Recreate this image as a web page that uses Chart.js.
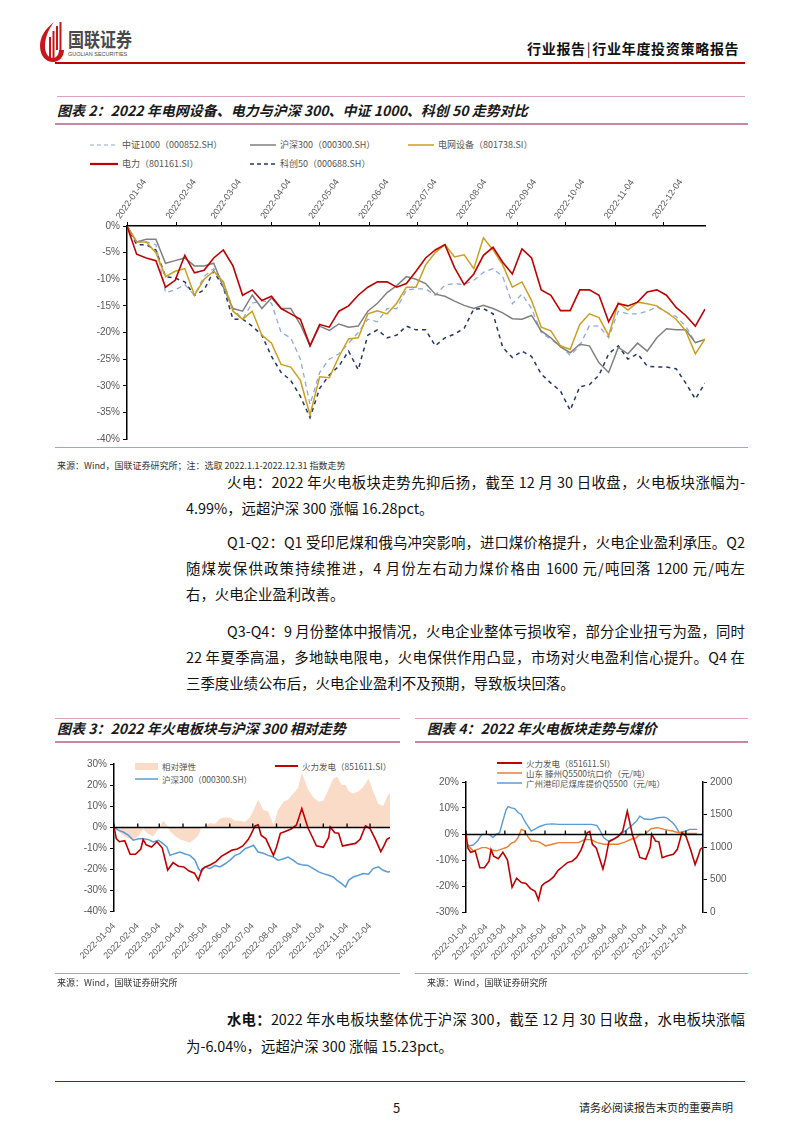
<!DOCTYPE html>
<html lang="zh-CN">
<head>
<meta charset="utf-8">
<title>行业年度投资策略报告 - 5</title>
<script src="https://cdn.jsdelivr.net/npm/chart.js@4.4.1/dist/chart.umd.min.js"></script>
<style>
  html, body { margin: 0; padding: 0; background: #fff; }
  body { width: 802px; height: 1133px; position: relative; overflow: hidden;
         font-family: "Noto Sans CJK SC", "Noto Sans", sans-serif; color: #1a1a1a; }
  .abs { position: absolute; white-space: nowrap; }
  .rule { position: absolute; height: 0; }
  .title { position: absolute; font-size: 14px; font-weight: 700; font-style: italic; color: #1a1a1a; white-space: nowrap; line-height: 1; }
  .src { position: absolute; font-size: 9px; color: #333; white-space: nowrap; line-height: 1; }
  .line { position: absolute; font-size: 14.4px; line-height: 1; white-space: nowrap; color: #111; }
  .full { text-align: justify; text-align-last: justify; white-space: normal; height: 16px; }
  .lg { position: absolute; font-size: 9px; color: #555; white-space: nowrap; line-height: 1; display: flex; align-items: center; }
  .lg svg { margin-right: 4px; }
  canvas { position: absolute; }
</style>
</head>
<body>

<!-- header -->
<svg class="abs" style="left:40px;top:21px" width="24" height="42" viewBox="0 0 24 42">
  <path d="M14 1 C5 8 0 16 0 25 C0 35 6 41 13 41 C19 41 24 36 24 29 L19 29 C19 34 16 37 13 37 C8 37 5 32 5 25 C5 17 8 9 14 1 Z" fill="#c8161d"/>
  <rect x="9" y="16" width="2" height="21" fill="#c8161d"/>
  <rect x="12.5" y="10" width="2" height="27" fill="#c8161d"/>
  <rect x="16" y="5" width="2" height="24" fill="#c8161d"/>
  <rect x="19.5" y="1" width="2" height="28" fill="#c8161d"/>
</svg>
<div class="abs" style="left:68px;top:29px;font-size:16px;font-weight:700;color:#4a4a4a;line-height:1;transform:scaleY(1.2);transform-origin:left top">国联证券</div>
<div class="abs" style="left:68px;top:52px;font-size:5.5px;color:#4a4a4a;font-family:Arial,sans-serif;line-height:1">GUOLIAN SECURITIES</div>
<div class="abs" style="left:527px;top:41px;font-size:14px;font-weight:700;color:#111;line-height:1;letter-spacing:0.7px">行业报告<span style="font-weight:400;margin:0 1px">|</span>行业年度投资策略报告</div>
<div class="rule" style="left:55px;top:62px;width:690px;border-top:2px solid #c00000"></div>

<!-- figure 2 -->
<div class="rule" style="left:57px;top:96px;width:688px;border-top:1px solid #dba3bd"></div>
<div class="title" style="left:57px;top:103px">图表 2：2022 年电网设备、电力与沪深 300、中证 1000、科创 50 走势对比</div>
<div class="rule" style="left:55px;top:123px;width:693px;border-top:2px solid #c48aa5"></div>

<div class="lg" style="left:90px;top:140px"><svg width="28" height="4"><line x1="0" y1="2" x2="28" y2="2" stroke="#8eaadb" stroke-width="1.2" stroke-dasharray="4 3"/></svg>中证1000（000852.SH）</div>
<div class="lg" style="left:250px;top:140px"><svg width="26" height="4"><line x1="0" y1="2" x2="26" y2="2" stroke="#808080" stroke-width="1.5"/></svg>沪深300（000300.SH）</div>
<div class="lg" style="left:408px;top:140px"><svg width="26" height="4"><line x1="0" y1="2" x2="26" y2="2" stroke="#cc9f1f" stroke-width="1.5"/></svg>电网设备（801738.SI）</div>
<div class="lg" style="left:90px;top:159px"><svg width="28" height="4"><line x1="0" y1="2" x2="28" y2="2" stroke="#c00000" stroke-width="2.2"/></svg>电力（801161.SI）</div>
<div class="lg" style="left:250px;top:159px"><svg width="26" height="4"><line x1="0" y1="2" x2="26" y2="2" stroke="#1f3864" stroke-width="1.5" stroke-dasharray="4 3"/></svg>科创50（000688.SH）</div>

<canvas id="trendChart" width="720" height="282" style="left:40px;top:168px;width:720px;height:282px"></canvas>
<div class="rule" style="left:55px;top:447px;width:693px;border-top:1.5px solid #d98fb3"></div>
<div class="src" style="left:57px;top:461px">来源：Wind，国联证券研究所；注：选取 2022.1.1-2022.12.31 指数走势</div>

<!-- body text -->
<div class="line full" style="left:227px;top:475px;width:518px">火电：2022 年火电板块走势先抑后扬，截至 12 月 30 日收盘，火电板块涨幅为-</div>
<div class="line" style="left:186px;top:501px">4.99%，远超沪深 300 涨幅 16.28pct。</div>
<div class="line full" style="left:227px;top:535px;width:518px">Q1-Q2：Q1 受印尼煤和俄乌冲突影响，进口煤价格提升，火电企业盈利承压。Q2</div>
<div class="line full" style="left:186px;top:561px;width:559px">随煤炭保供政策持续推进，4 月份左右动力煤价格由 1600 元/吨回落 1200 元/吨左</div>
<div class="line" style="left:186px;top:587px">右，火电企业盈利改善。</div>
<div class="line full" style="left:227px;top:624px;width:518px">Q3-Q4：9 月份整体中报情况，火电企业整体亏损收窄，部分企业扭亏为盈，同时</div>
<div class="line full" style="left:186px;top:650px;width:559px">22 年夏季高温，多地缺电限电，火电保供作用凸显，市场对火电盈利信心提升。Q4 在</div>
<div class="line" style="left:186px;top:676px">三季度业绩公布后，火电企业盈利不及预期，导致板块回落。</div>

<!-- figure 3 -->
<div class="rule" style="left:55px;top:718px;width:345px;border-top:1px solid #dba3bd"></div>
<div class="title" style="left:57px;top:721px">图表 3：2022 年火电板块与沪深 300 相对走势</div>
<div class="rule" style="left:55px;top:741px;width:345px;border-top:2px solid #c48aa5"></div>
<div class="lg" style="left:135px;top:762px;font-size:8.5px"><svg width="23" height="7"><rect x="0" y="0" width="23" height="7" fill="#fadbc8"/></svg>相对弹性</div>
<div class="lg" style="left:135px;top:775px;font-size:8.5px"><svg width="23" height="4"><line x1="0" y1="2" x2="23" y2="2" stroke="#5b9bd5" stroke-width="1.5"/></svg>沪深300（000300.SH）</div>
<div class="lg" style="left:275px;top:762px;font-size:8.5px"><svg width="23" height="4"><line x1="0" y1="2" x2="23" y2="2" stroke="#c00000" stroke-width="2"/></svg>火力发电（851611.SI）</div>
<canvas id="relChart" width="357" height="232" style="left:45px;top:745px;width:357px;height:232px"></canvas>
<div class="rule" style="left:55px;top:973px;width:345px;border-top:1.5px solid #d98fb3"></div>
<div class="src" style="left:57px;top:978px">来源：Wind，国联证券研究所</div>

<!-- figure 4 -->
<div class="rule" style="left:415px;top:718px;width:333px;border-top:1px solid #dba3bd"></div>
<div class="title" style="left:427px;top:721px">图表 4：2022 年火电板块走势与煤价</div>
<div class="rule" style="left:415px;top:741px;width:333px;border-top:2px solid #c48aa5"></div>
<div class="lg" style="left:497px;top:759px;font-size:8.5px"><svg width="25" height="4"><line x1="0" y1="2" x2="25" y2="2" stroke="#c00000" stroke-width="2"/></svg>火力发电（851611.SI）</div>
<div class="lg" style="left:497px;top:769px;font-size:8.5px"><svg width="25" height="4"><line x1="0" y1="2" x2="25" y2="2" stroke="#ed7d31" stroke-width="1.5"/></svg>山东 滕州Q5500坑口价（元/吨）</div>
<div class="lg" style="left:497px;top:779px;font-size:8.5px"><svg width="25" height="4"><line x1="0" y1="2" x2="25" y2="2" stroke="#5b9bd5" stroke-width="1.5"/></svg>广州港印尼煤库提价Q5500（元/吨）</div>
<canvas id="coalChart" width="340" height="232" style="left:415px;top:745px;width:340px;height:232px"></canvas>
<div class="rule" style="left:415px;top:973px;width:333px;border-top:1.5px solid #d98fb3"></div>
<div class="src" style="left:427px;top:978px">来源：Wind，国联证券研究所</div>

<!-- hydro paragraph -->
<div class="line full" style="left:227px;top:1012px;width:518px"><b>水电：</b>2022 年水电板块整体优于沪深 300，截至 12 月 30 日收盘，水电板块涨幅</div>
<div class="line" style="left:186px;top:1039px">为-6.04%，远超沪深 300 涨幅 15.23pct。</div>

<!-- footer -->
<div class="rule" style="left:55px;top:1081px;width:690px;border-top:1.5px solid #c00000"></div>
<div class="abs" style="left:393px;top:1101px;font-size:13px;line-height:1">5</div>
<div class="abs" style="left:579px;top:1102px;font-size:11px;line-height:1;color:#222">请务必阅读报告末页的重要声明</div>

<script>
// tick positions: days since 2022-01-04
const monthDays = [0, 31, 59, 90, 120, 151, 181, 212, 243, 273, 304, 334];
const monthLabels = ['2022-01-04', '2022-02-04', '2022-03-04', '2022-04-04', '2022-05-04', '2022-06-04',
  '2022-07-04', '2022-08-04', '2022-09-04', '2022-10-04', '2022-11-04', '2022-12-04'];

// ---- figure 2: cumulative change (%) ----
const days2 = [0, 6, 12, 18, 24, 30, 36, 42, 48, 54, 60, 66, 72, 78, 84, 90, 96, 102, 108, 114,
  120, 126, 132, 138, 144, 150, 156, 162, 168, 174, 180, 186, 192, 198, 204, 210, 216, 222, 228, 234,
  240, 246, 252, 258, 264, 270, 276, 282, 288, 294, 300, 306, 312, 318, 324, 330, 336, 342, 348, 354, 360];
const power801161 = [0, -5.3, -6, -6.5, -11.5, -10.2, -5.5, -8.8, -8.3, -6,
  -4.5, -7.5, -13, -12, -14, -13.2, -15.5, -16.5, -17.5, -22.5,
  -18.5, -19, -16, -15, -13, -11.5, -10.5, -10.5, -11.5, -10.8,
  -8.5, -6, -4.5, -3.5, -7.8, -11, -9, -5.5, -4, -6.8,
  -9, -4.3, -6, -12, -13, -15.9, -15.9, -12, -12, -13,
  -18, -14.6, -15, -14.3, -12.4, -12, -13, -15.3, -16.8, -18.8, -15.6];
const grid801738 = [0, -3, -3, -5, -9.5, -8.5, -8, -13, -10, -8.5,
  -10.5, -16, -17.5, -16, -20.5, -22, -26, -26.5, -29, -35.5,
  -28.3, -28.5, -24.5, -21.2, -21, -16.5, -15.9, -16.5, -14.5, -11.5,
  -11.5, -7.3, -5, -3.5, -5.8, -5.4, -8, -2.2, -4.5, -7.3,
  -11.5, -10.5, -14, -19, -19.7, -22.5, -23.2, -18.5, -16.5, -17.2,
  -20.6, -14.4, -15.8, -14.3, -14.6, -15, -16.2, -17.5, -19.7, -24, -21.2];
const hs300 = [0, -3, -2.5, -2.5, -7, -6.5, -6, -7.5, -7.5, -7,
  -11.5, -15.5, -16, -13, -15.5, -13.5, -15.5, -15.5, -18.5, -22.5,
  -18.8, -19.6, -18.4, -19, -18.8, -16, -14.5, -12.5, -11.2, -9.5,
  -10, -10.8, -12.8, -13.2, -14.1, -14.9, -15.5, -14.9, -15.5, -16.3,
  -17.4, -17.5, -16.8, -19.7, -21, -22.7, -23.8, -22.2, -22.5, -25.7,
  -27.5, -22.8, -24, -22, -23.5, -21, -19.3, -19.5, -19.5, -21.9, -21.3];
const csi1000 = [0, -3, -3, -3.5, -12.5, -12, -11, -13, -9.5, -8,
  -10.5, -15.5, -17.5, -14.5, -14, -14.5, -20, -21, -25, -33.5,
  -27.5, -25, -24, -22, -20, -17.5, -18, -15.5, -15.5, -12,
  -11.8, -11.8, -13, -11.1, -10.8, -11, -10.2, -8.7, -8, -9.5,
  -14.6, -12.8, -15.5, -20, -21.3, -22.5, -24.3, -22.5, -18.7, -18.8,
  -21, -16, -16.5, -16.5, -16, -15.2, -16.2, -17, -18.8, -21.9, -21.3];
const star50 = [0, -3.5, -3.5, -4.5, -9.5, -9.8, -10.5, -13, -12, -8.5,
  -11.5, -17.5, -17.5, -18.8, -20.5, -24.5, -27.5, -29, -32, -36,
  -30.5, -28, -26.3, -23.5, -27, -20.5, -19.5, -21, -20.5, -18.8,
  -19.5, -19.5, -22.5, -21, -20.3, -19.2, -15.6, -15.5, -16.5, -22.8,
  -24.7, -23.5, -24.5, -27.8, -29.5, -31, -34.6, -30.2, -29.8, -28,
  -24, -22.5, -25, -24, -26.3, -26.5, -26.5, -26.8, -29.5, -32.5, -29.5];

// ---- 火力发电 (851611.SI), used in figures 3 and 4 ----
const daysFire = [0, 3, 7, 14, 21, 28, 35, 38, 42, 49, 56, 63, 70, 77, 84, 91, 98, 105, 110, 115,
  119, 126, 133, 140, 147, 154, 161, 168, 175, 178, 184, 188, 192, 198, 208, 212, 217, 224, 231, 238,
  245, 250, 253, 259, 264, 273, 280, 282, 288, 293, 298, 305, 315, 321, 328, 334, 341, 348, 352, 356, 360];
const firePower = [0, -5.5, -7, -6.5, -13, -13, -10.5, -6, -8.5, -9.5,
  -7, -10, -20.5, -17, -18.7, -19, -21, -22, -25.3, -20,
  -19, -18, -16.5, -14, -12.5, -11, -10.5, -9, -6, -4,
  0.5, 1, -4, -5.5, -13.5, -9.5, -3, -2, -1, 1,
  8.8, 3, -0.5, -5, -9, -9.7, -5, 0, -2.7, -3,
  -9.1, -8.5, -7.8, -5.9, 0.5, -0.8, -5.9, -11.7, -9, -5.9, -5];

// ---- figure 3: 沪深300 and relative elasticity ----
const days3 = [0, 6, 12, 19, 25, 32, 38, 45, 51, 58, 64, 69, 73, 79, 86, 92, 99, 106, 110, 114,
  119, 125, 132, 138, 145, 151, 158, 164, 171, 177, 182, 188, 195, 201, 208, 214, 221, 227, 234, 240,
  245, 253, 260, 267, 273, 280, 286, 291, 297, 302, 306, 312, 319, 325, 332, 338, 345, 351, 357, 360];
const hs300Fig3 = [0, -1.6, -2.4, -4, -6.3, -5.6, -5.6, -6, -7.1, -6.3,
  -7.9, -9.5, -13.5, -12.7, -11.9, -12.7, -13.5, -15.9, -19.8, -21.4,
  -19, -19.8, -18.3, -19, -17.5, -15.9, -13.5, -12.7, -10.3, -9.5,
  -8.7, -11.9, -12.5, -13.5, -14.3, -15.9, -15.1, -14.3, -15.9, -17.5,
  -18, -18.3, -19.8, -21.4, -22.2, -23, -23.8, -25.4, -27, -28.6,
  -25.4, -23.8, -23, -22.2, -22.5, -19.8, -19, -20.6, -21.4, -21.3];
const relative = [0, -2, -4, -5.5, -6, -4, -1, -3.5, -4.5, -1,
  3, 1, -2, -4, -6, -6.5, -7.5, -5.5, -4, 0,
  0.5, 1.8, 1.5, 4, 4.5, 4.5, 3, 3, 2.5, 4.5,
  8, 13, 8, 7.5, 1, 8, 12, 13, 16, 18.5,
  26, 18, 14, 12, 12.5, 18, 23, 24, 20, 20,
  17, 16, 17, 19, 23, 17, 11, 10, 15, 16.3];

// ---- figure 4: coal prices (元/吨) ----
const daysCoal = [0, 4, 11, 18, 24, 31, 36, 41, 46, 51, 56, 61, 64, 69, 74, 79, 84, 89, 94, 99,
  104, 111, 121, 131, 141, 151, 161, 171, 181, 191, 199, 204, 209, 216, 224, 231, 241, 251, 259, 264,
  271, 281, 291, 301, 306, 314, 319, 324, 334, 339, 351];
const tengzhouQ5500 = [1090, 1010, 941, 965, 990, 990, 966, 950, 941, 955,
  975, 992, 1010, 1060, 1080, 1144, 1270, 1250, 1160, 1093,
  1093, 1080, 1017, 1043, 1068, 1068, 1068, 1068, 1119, 1110,
  1068, 1055, 1043, 1043, 1043, 1043, 1075, 1119, 1145, 1195,
  1190, 1282, 1297, 1271, 1260, 1246, 1230, 1220, 1210, 1210, 1210];
const guangzhouQ5500 = [1070, 1017, 1030, 1100, 1195, 1195, 1190, 1144, 1195, 1220,
  1399, 1577, 1620, 1602, 1590, 1530, 1500, 1400, 1322, 1246,
  1271, 1312, 1348, 1355, 1348, 1348, 1348, 1348, 1348, 1348,
  1330, 1246, 1144, 1093, 1120, 1170, 1240, 1322, 1399, 1475,
  1430, 1424, 1450, 1460, 1440, 1373, 1310, 1220, 1246, 1271, 1271];

const tickGray = '#595959';
Chart.defaults.font.family = 'Arial, "Liberation Sans", sans-serif';
Chart.defaults.color = tickGray;

function pts(xs, ys) {
  return xs.map((x, i) => ({ x: x, y: ys[i] }));
}
function monthTicks(scale) {
  scale.ticks = monthDays.map(v => ({ value: v }));
}

// black zero line with month tick marks
const zeroLine = {
  id: 'zeroLine',
  afterDatasetsDraw(chart) {
    const { ctx, chartArea, scales } = chart;
    const y = Math.round(scales.y.getPixelForValue(0)) + 0.5;
    ctx.save();
    ctx.strokeStyle = '#000';
    ctx.lineWidth = 1.3;
    ctx.beginPath();
    ctx.moveTo(chartArea.left, y);
    ctx.lineTo(chartArea.right, y);
    monthDays.forEach(d => {
      const x = scales.x.getPixelForValue(d);
      ctx.moveTo(x, y);
      ctx.lineTo(x, y - 4);
    });
    ctx.stroke();
    ctx.restore();
  }
};

const axisLine = { color: '#000', width: 1.5 };
const tickMarks = { drawOnChartArea: false, tickLength: 4, color: '#000', lineWidth: 1 };

// Figure 2
new Chart(document.getElementById('trendChart'), {
  type: 'line',
  data: {
    datasets: [
      { label: '电力（801161.SI）', data: pts(days2, power801161), borderColor: '#c00000', borderWidth: 1.6 },
      { label: '电网设备（801738.SI）', data: pts(days2, grid801738), borderColor: '#cc9f1f', borderWidth: 1.5 },
      { label: '沪深300（000300.SH）', data: pts(days2, hs300), borderColor: '#808080', borderWidth: 1.5 },
      { label: '中证1000（000852.SH）', data: pts(days2, csi1000), borderColor: '#8eaadb', borderWidth: 1.3, borderDash: [5, 4] },
      { label: '科创50（000688.SH）', data: pts(days2, star50), borderColor: '#1f3864', borderWidth: 1.5, borderDash: [4, 4] }
    ]
  },
  options: {
    responsive: false,
    animation: false,
    elements: { point: { radius: 0 }, line: { tension: 0 } },
    plugins: { legend: { display: false }, tooltip: { enabled: false } },
    layout: { padding: { right: 55, bottom: 11, top: 0, left: 0 } },
    scales: {
      x: {
        type: 'linear', position: 'top', min: 0, max: 360,
        afterBuildTicks: monthTicks,
        afterFit: s => { s.height = 58; },
        ticks: { callback: (v, i) => monthLabels[i], autoSkip: false, minRotation: 55, maxRotation: 55,
                 font: { size: 9 }, color: tickGray, padding: 1 },
        grid: tickMarks, border: axisLine
      },
      y: {
        min: -40, max: 0,
        afterFit: s => { s.width = 87; },
        ticks: { stepSize: 5, callback: v => v + '%', font: { size: 10 }, color: tickGray, padding: 3 },
        grid: tickMarks, border: axisLine
      }
    }
  }
});

// Figure 3
new Chart(document.getElementById('relChart'), {
  type: 'line',
  data: {
    datasets: [
      { label: '火力发电（851611.SI）', data: pts(daysFire, firePower), borderColor: '#c00000', borderWidth: 1.6 },
      { label: '沪深300（000300.SH）', data: pts(days3, hs300Fig3), borderColor: '#5b9bd5', borderWidth: 1.5 },
      { label: '相对弹性', data: pts(days3, relative), borderWidth: 0, borderColor: 'rgba(0,0,0,0)',
        backgroundColor: '#fadbc8', fill: 'origin' }
    ]
  },
  options: {
    responsive: false,
    animation: false,
    elements: { point: { radius: 0 }, line: { tension: 0 } },
    plugins: { legend: { display: false }, tooltip: { enabled: false } },
    layout: { padding: { right: 12, top: 19, left: 0, bottom: 0 } },
    scales: {
      x: {
        type: 'linear', min: 0, max: 360,
        afterBuildTicks: monthTicks,
        afterFit: s => { s.height = 66; },
        ticks: { callback: (v, i) => monthLabels[i], autoSkip: false, minRotation: 45, maxRotation: 45,
                 font: { size: 9 }, color: tickGray, padding: 2 },
        grid: { display: false }, border: { display: false }
      },
      y: {
        min: -40, max: 30,
        afterFit: s => { s.width = 69; },
        ticks: { stepSize: 10, callback: v => v + '%', font: { size: 10 }, color: tickGray, padding: 3 },
        grid: tickMarks, border: axisLine
      }
    }
  },
  plugins: [zeroLine]
});

// Figure 4
new Chart(document.getElementById('coalChart'), {
  type: 'line',
  data: {
    datasets: [
      { label: '火力发电（851611.SI）', data: pts(daysFire, firePower), borderColor: '#c00000', borderWidth: 1.6, yAxisID: 'y' },
      { label: '山东 滕州Q5500坑口价（元/吨）', data: pts(daysCoal, tengzhouQ5500), borderColor: '#ed7d31', borderWidth: 1.4, yAxisID: 'y2' },
      { label: '广州港印尼煤库提价Q5500（元/吨）', data: pts(daysCoal, guangzhouQ5500), borderColor: '#5b9bd5', borderWidth: 1.4, yAxisID: 'y2' }
    ]
  },
  options: {
    responsive: false,
    animation: false,
    elements: { point: { radius: 0 }, line: { tension: 0 } },
    plugins: { legend: { display: false }, tooltip: { enabled: false } },
    layout: { padding: { right: 0, top: 37, left: 0, bottom: 0 } },
    scales: {
      x: {
        type: 'linear', min: 0, max: 360,
        afterBuildTicks: monthTicks,
        afterFit: s => { s.height = 65; },
        ticks: { callback: (v, i) => monthLabels[i], autoSkip: false, minRotation: 45, maxRotation: 45,
                 font: { size: 9 }, color: tickGray, padding: 2 },
        grid: { display: false }, border: { display: false }
      },
      y: {
        min: -30, max: 20,
        afterFit: s => { s.width = 51; },
        ticks: { stepSize: 10, callback: v => v + '%', font: { size: 10 }, color: tickGray, padding: 3 },
        grid: tickMarks, border: axisLine
      },
      y2: {
        position: 'right', min: 0, max: 2000,
        afterFit: s => { s.width = 52; },
        ticks: { stepSize: 500, callback: v => String(v), font: { size: 10 }, color: tickGray, padding: 3 },
        grid: tickMarks, border: axisLine
      }
    }
  },
  plugins: [zeroLine]
});
</script>
</body>
</html>
